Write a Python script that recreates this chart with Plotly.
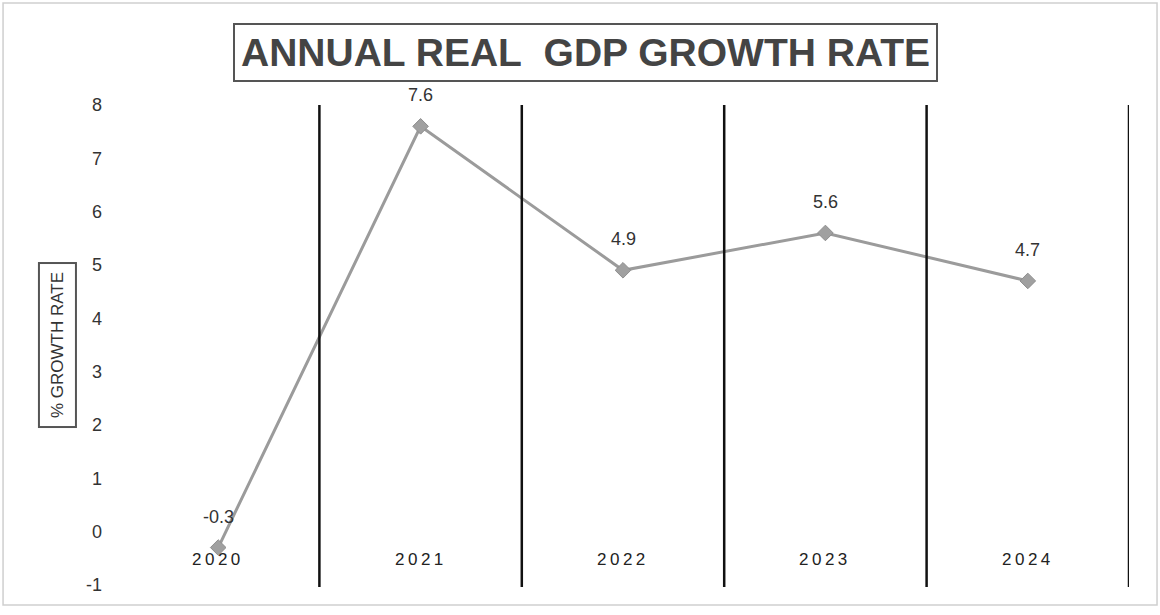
import plotly.graph_objects as go

years = ["2020", "2021", "2022", "2023", "2024"]
growth = [-0.3, 7.6, 4.9, 5.6, 4.7]
y_ticks = [-1, 0, 1, 2, 3, 4, 5, 6, 7, 8]
title_text = "ANNUAL REAL\u00a0 GDP GROWTH RATE"
y_title = "% GROWTH RATE"

xpos = list(range(len(years)))
boundaries = [i + 0.5 for i in xpos]

fig = go.Figure()
fig.add_trace(go.Scatter(
    x=xpos, y=growth, mode="lines+markers",
    line=dict(color="#9b9b9b", width=3),
    marker=dict(symbol="diamond", size=12, color="#a0a0a0",
                line=dict(color="#8e8e8e", width=1)),
    hoverinfo="skip", showlegend=False,
))

annotations = []
for x, v in zip(xpos, growth):
    annotations.append(dict(x=x, y=v, xref="x", yref="y", text=f"{v:g}",
                            showarrow=False, yshift=31,
                            font=dict(family="Liberation Sans, Arial", size=18, color="#333")))
for x, lab in zip(xpos, years):
    annotations.append(dict(x=x, y=0, xref="x", yref="y",
                            text=f'<span style="letter-spacing:3.5px">{lab}</span>',
                            showarrow=False, yshift=-28,
                            font=dict(family="Liberation Sans, Arial", size=17, color="#222")))
annotations.append(dict(x=0.4625, y=1.108, xref="paper", yref="paper",
                        xanchor="center", yanchor="middle",
                        text=f"<b>{title_text}</b>", showarrow=False,
                        font=dict(family="Liberation Sans Narrow, Arial Narrow, Liberation Sans", size=39, color="#444"),
                        bordercolor="#555", borderwidth=2, borderpad=6, bgcolor="white"))
annotations.append(dict(x=-0.0593, y=0.502, xref="paper", yref="paper",
                        xanchor="center", yanchor="middle",
                        text=y_title, textangle=-90, showarrow=False,
                        font=dict(family="Liberation Sans, Arial", size=17, color="#333"),
                        bordercolor="#555", borderwidth=2, borderpad=8))

shapes = [dict(type="line", xref="x", yref="paper", x0=b, x1=b, y0=0, y1=1,
               line=dict(color="#111", width=2.5)) for b in boundaries]
shapes.append(dict(type="rect", xref="paper", yref="paper",
                   x0=-0.1126, x1=1.0277, y0=-0.0373, y1=1.2116,
                   line=dict(color="#cfcfcf", width=1.5), layer="below"))

fig.update_layout(
    width=1160, height=615,
    margin=dict(l=117, r=31, t=105, b=28),
    paper_bgcolor="white", plot_bgcolor="white",
    xaxis=dict(range=[-0.5, 4.5], showgrid=False, zeroline=False,
               showticklabels=False, showline=False),
    yaxis=dict(range=[-1.04, 8.0], tickvals=y_ticks, ticktext=[str(t) for t in y_ticks],
               showgrid=False, zeroline=False, showline=False, ticklabelstandoff=14,
               tickfont=dict(family="Liberation Sans, Arial", size=18, color="#333")),
    annotations=annotations, shapes=shapes,
)
fig.write_html("out.html")
